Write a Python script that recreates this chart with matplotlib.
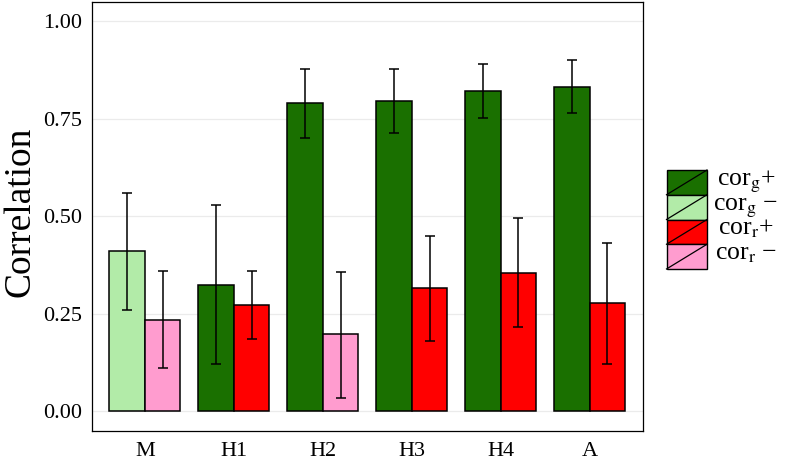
import matplotlib
matplotlib.use("Agg")
import matplotlib.pyplot as plt
import numpy as np
from matplotlib.patches import Rectangle
from matplotlib.lines import Line2D

plt.rcParams['font.family'] = ['Liberation Serif', 'DejaVu Serif']
plt.rcParams['mathtext.fontset'] = 'stix'

categories = ['M', 'H1', 'H2', 'H3', 'H4', 'A']
# genetic correlation (left bar) and residual correlation (right bar)
cor_g = [0.41, 0.325, 0.79, 0.797, 0.822, 0.833]
cor_g_lo = [0.26, 0.12, 0.70, 0.715, 0.752, 0.765]
cor_g_hi = [0.56, 0.53, 0.878, 0.877, 0.89, 0.90]
cor_g_sign = ['-', '+', '+', '+', '+', '+']
cor_r = [0.235, 0.272, 0.197, 0.315, 0.355, 0.277]
cor_r_lo = [0.11, 0.185, 0.035, 0.18, 0.215, 0.12]
cor_r_hi = [0.36, 0.36, 0.358, 0.45, 0.497, 0.432]
cor_r_sign = ['-', '+', '-', '+', '+', '+']

colors = {('g', '+'): '#1a7000', ('g', '-'): '#b2eba8',
          ('r', '+'): '#ff0000', ('r', '-'): '#ff9ccf'}
legend_labels = [('g', '+', r'cor$_{\mathrm{g}}$+'),
                 ('g', '-', r'cor$_{\mathrm{g}}$ −'),
                 ('r', '+', r'cor$_{\mathrm{r}}$+'),
                 ('r', '-', r'cor$_{\mathrm{r}}$ −')]

fig = plt.figure(figsize=(7.9, 4.62), dpi=100)
ax = fig.add_axes([91.5/790, 1 - 430.7/462, (643 - 91.5)/790, (430.7 - 2)/462])

x = np.arange(1, len(categories) + 1)
w = 0.4
ax.bar(x - w/2, cor_g, width=w, color=[colors[('g', s)] for s in cor_g_sign],
       edgecolor='black', linewidth=1.1, zorder=2)
ax.bar(x + w/2, cor_r, width=w, color=[colors[('r', s)] for s in cor_r_sign],
       edgecolor='black', linewidth=1.1, zorder=2)

g = np.array(cor_g); r = np.array(cor_r)
ax.errorbar(x - w/2, g, yerr=[g - np.array(cor_g_lo), np.array(cor_g_hi) - g],
            fmt='none', ecolor='black', elinewidth=1.1, capsize=3.4, capthick=1.1, zorder=3)
ax.errorbar(x + w/2, r, yerr=[r - np.array(cor_r_lo), np.array(cor_r_hi) - r],
            fmt='none', ecolor='black', elinewidth=1.1, capsize=3.4, capthick=1.1, zorder=3)

ax.set_xlim(0.4, len(categories) + 0.6)
ax.set_ylim(-0.05, 1.05)
ax.set_yticks([0, 0.25, 0.5, 0.75, 1.0])
ax.set_yticklabels(['0.00', '0.25', '0.50', '0.75', '1.00'])
ax.set_xticks(x)
ax.set_xticklabels(categories)
ax.tick_params(axis='both', length=0, labelsize=16, colors='black')
ax.tick_params(axis='y', pad=7)
ax.tick_params(axis='x', pad=8)
ax.yaxis.grid(True, color='#ebebeb', linewidth=0.9, zorder=0)
ax.set_axisbelow(True)
for s in ax.spines.values():
    s.set_linewidth(0.9)
    s.set_color('black')
fig.text(3/790, 1 - 212/462, 'Correlation', fontsize=27, rotation=90,
         ha='left', va='center')

# legend drawn manually
lax = fig.add_axes([0, 0, 1, 1], facecolor='none')
lax.set_xlim(0, 790)
lax.set_ylim(462, 0)
lax.axis('off')
kx0, kx1 = 666.5, 707
ky0, kh = 170, 24.75
for i, (v, sgn, lab) in enumerate(legend_labels):
    y0 = ky0 + i * kh
    lax.add_patch(Rectangle((kx0, y0), kx1 - kx0, kh, facecolor=colors[(v, sgn)],
                            edgecolor='black', linewidth=1.0))
    lax.add_line(Line2D([kx0, kx1], [y0 + kh, y0], color='black', linewidth=0.9))
    lax.text(746, y0 + kh/2 + 3, lab, fontsize=18.5, ha='center', va='baseline')

fig.savefig('out.png', dpi=100)
